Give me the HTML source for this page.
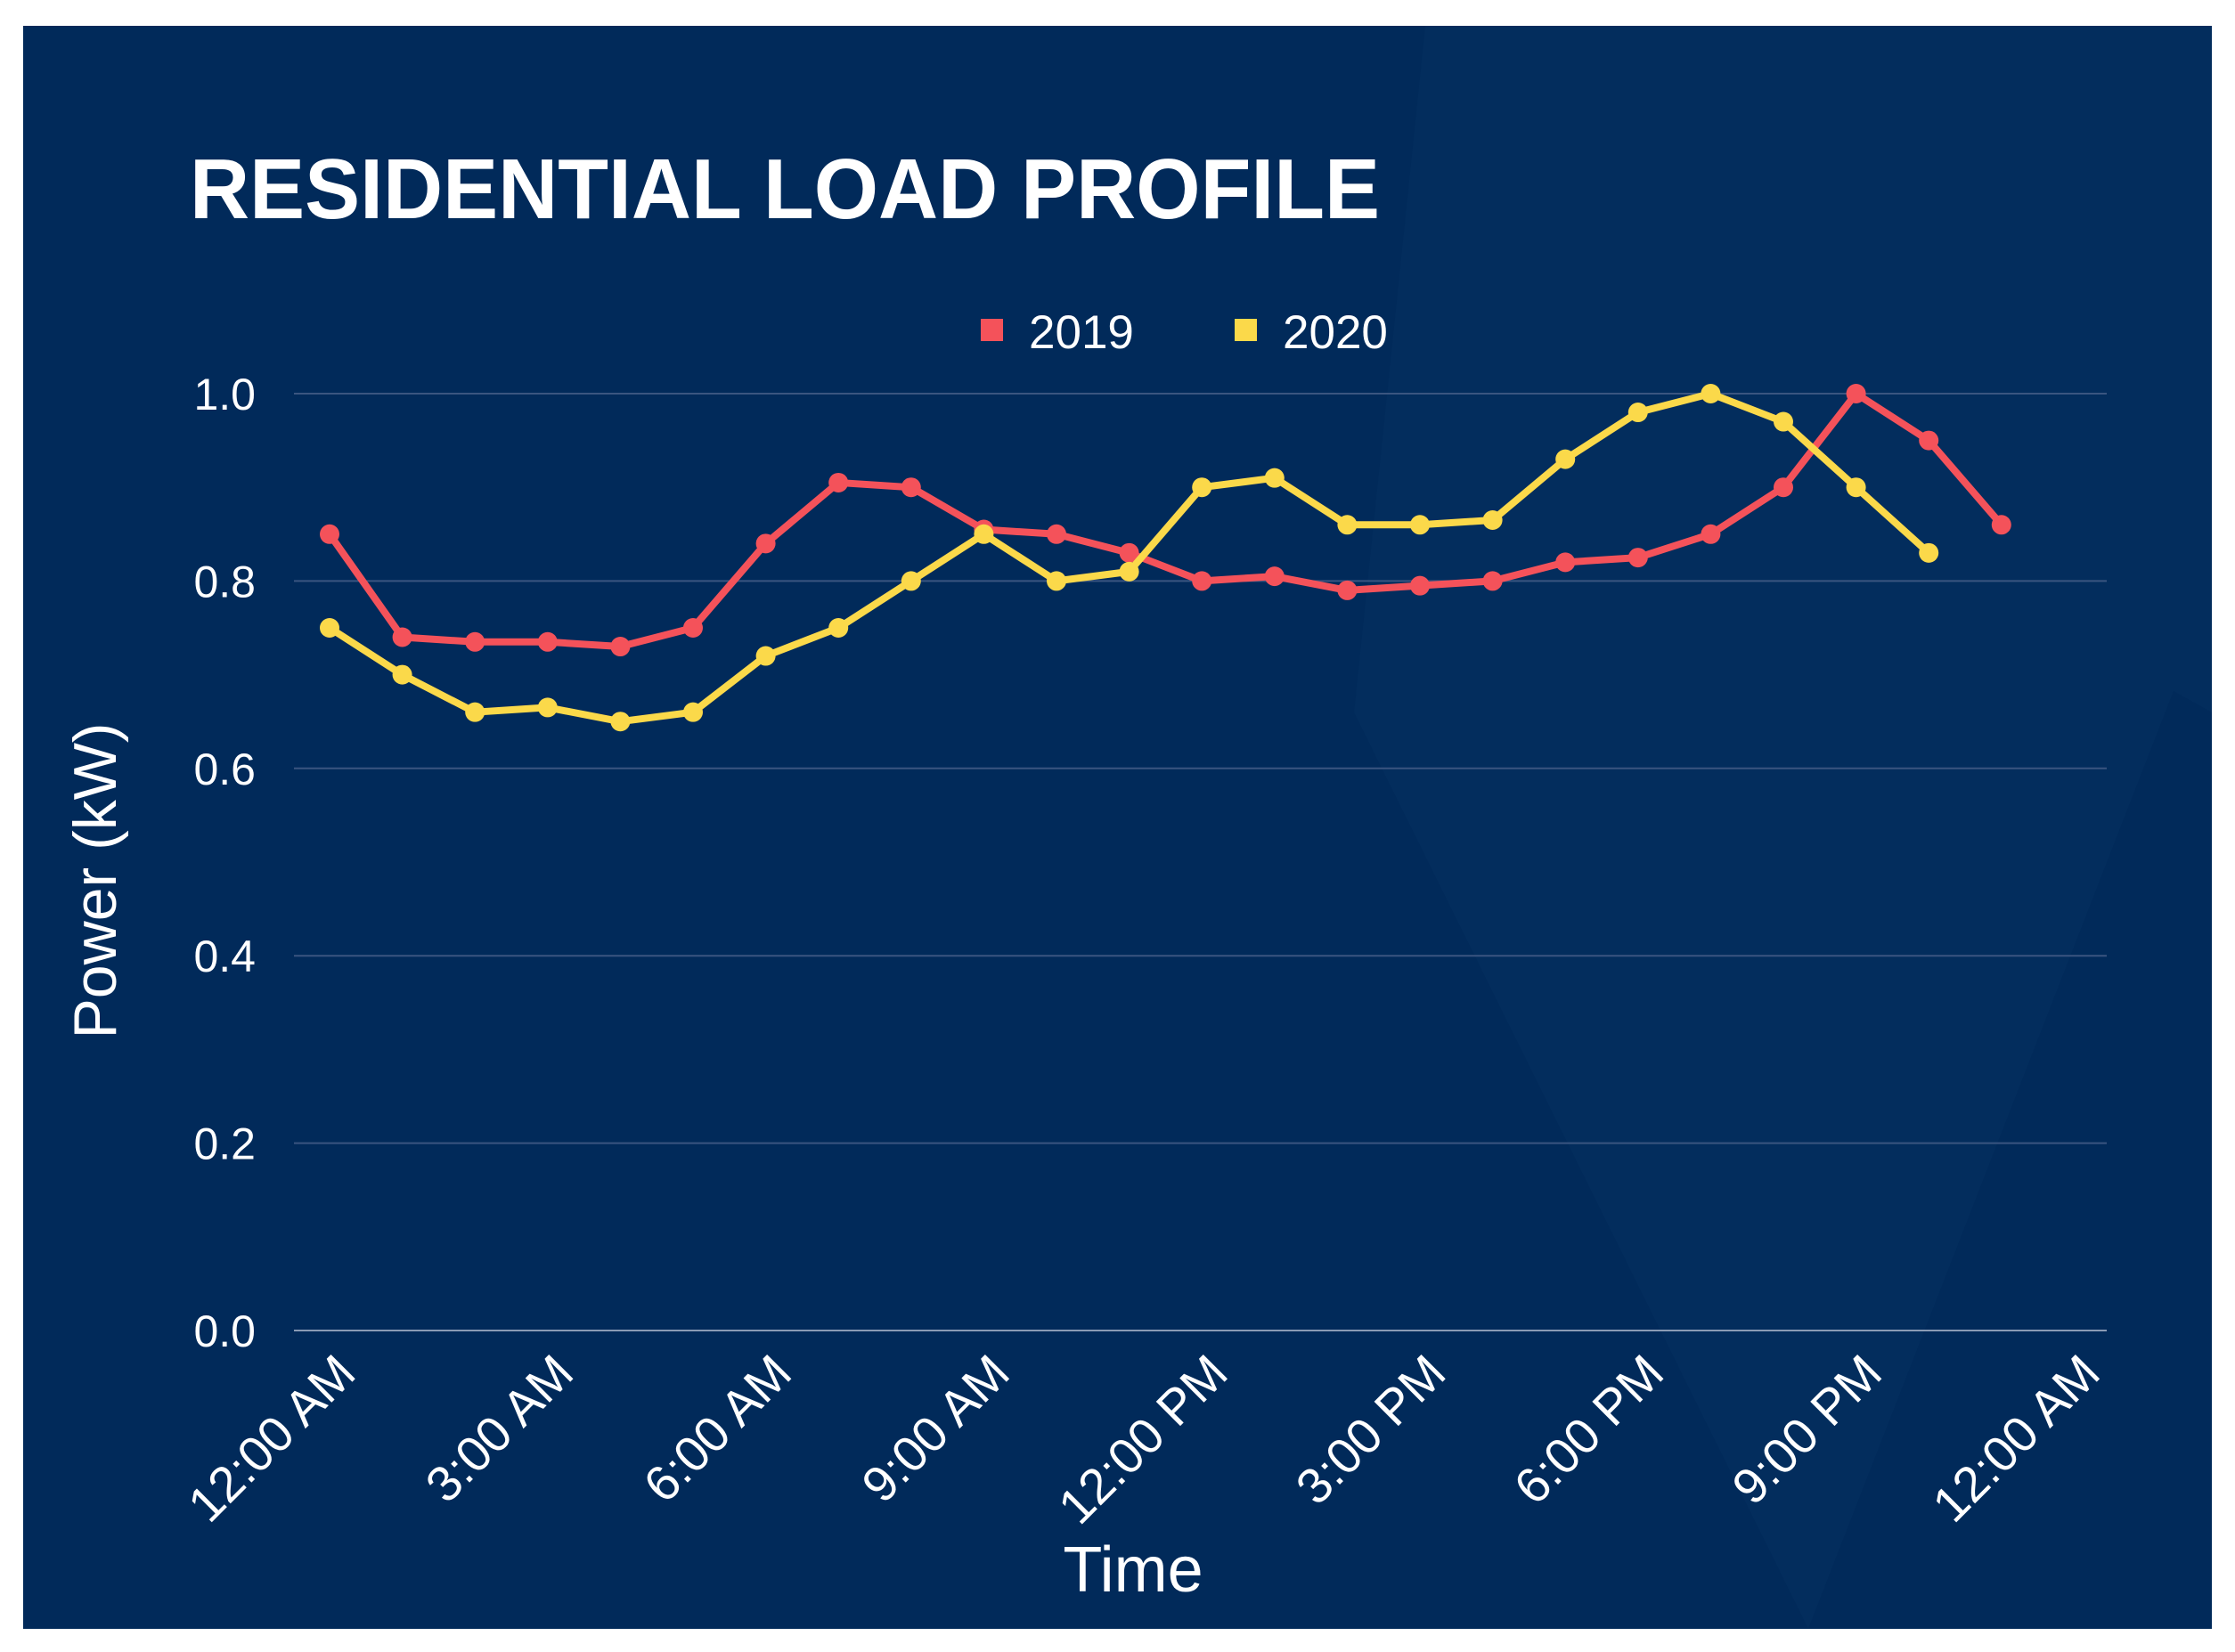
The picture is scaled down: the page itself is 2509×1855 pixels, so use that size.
<!DOCTYPE html>
<html><head><meta charset="utf-8"><style>
html,body{margin:0;padding:0;background:#fff;}
svg{display:block;font-family:"Liberation Sans",sans-serif;}
</style></head><body>
<svg id="chart" width="2509" height="1855" viewBox="0 0 2509 1855">
<rect x="26" y="29" width="2457" height="1800" fill="#012a5a"/>
<polygon points="1600,29 2483,29 2483,800 2440,776 2030,1829 1520,800" fill="#06305f" opacity="0.5"/>
<text x="213" y="245" fill="#fff" font-size="96" font-weight="bold" textLength="1336" lengthAdjust="spacingAndGlyphs">RESIDENTIAL LOAD PROFILE</text>
<g>
<rect x="1101" y="358" width="25" height="25" fill="#f4525a"/>
<text x="1155" y="391" fill="#fff" font-size="53">2019</text>
<rect x="1386" y="358" width="25" height="25" fill="#fbd94a"/>
<text x="1440" y="391" fill="#fff" font-size="53">2020</text>
</g>
<g id="grid"></g><g id="axes"></g><g id="series"></g>
<text transform="translate(130,989) rotate(-90)" text-anchor="middle" fill="#fff" font-size="68">Power (kW)</text>
<text x="1272" y="1787" text-anchor="middle" fill="#fff" font-size="72">Time</text>
</svg>
<script>
const yTicks=[0,0.2,0.4,0.6,0.8,1.0];
const yTickLabels=["0.0","0.2","0.4","0.6","0.8","1.0"];
const xTickHours=[0,3,6,9,12,15,18,21,24];
const xTickLabels=["12:00 AM","3:00 AM","6:00 AM","9:00 AM","12:00 PM","3:00 PM","6:00 PM","9:00 PM","12:00 AM"];
const hours2019=[0,1,2,3,4,5,6,7,8,9,10,11,12,13,14,15,16,17,18,19,20,21,22,23];
const values2019=[0.85,0.74,0.735,0.735,0.73,0.75,0.84,0.905,0.90,0.855,0.85,0.83,0.80,0.805,0.79,0.795,0.80,0.82,0.825,0.85,0.90,1.0,0.95,0.86];
const hours2020=[0,1,2,3,4,5,6,7,8,9,10,11,12,13,14,15,16,17,18,19,20,21,22];
const values2020=[0.75,0.70,0.66,0.665,0.65,0.66,0.72,0.75,0.80,0.85,0.80,0.81,0.90,0.91,0.86,0.86,0.865,0.93,0.98,1.0,0.97,0.90,0.83];
const NS="http://www.w3.org/2000/svg";
const xS=h=>370+h*81.6;
const yS=v=>1494-v*1052;
function mk(tag,attrs,parent){const e=document.createElementNS(NS,tag);for(const k in attrs)e.setAttribute(k,attrs[k]);parent.appendChild(e);return e;}
const grid=document.getElementById('grid'),axes=document.getElementById('axes'),ser=document.getElementById('series');
yTicks.forEach((v,i)=>{
 const l=mk('line',{x1:330,x2:2365,y1:yS(v),y2:yS(v),stroke:i===0?'#8a9bb5':'#3a5580','stroke-width':2},grid);
 
 
 const t=mk('text',{x:287,y:yS(v)+18,'text-anchor':'end',fill:'#fff','font-size':50},axes);
 t.textContent=yTickLabels[i];
 
 
});
xTickHours.forEach((h,i)=>{
 const x=xS(h)+32,y=1545;
 const t=mk('text',{x:x,y:y,'text-anchor':'end',fill:'#fff','font-size':56,transform:`rotate(-45 ${x} ${y})`},axes);
 t.textContent=xTickLabels[i];
 
 
});
function drawSeries(hs,vs,color,name){
 const g=mk('g',{},ser);
 
 
 const p=mk('polyline',{points:hs.map((h,i)=>xS(h)+','+yS(vs[i])).join(' '),fill:'none',stroke:color,'stroke-width':8,'stroke-linejoin':'round'},g);
 
 
 hs.forEach((h,i)=>{
  const c=mk('circle',{cx:xS(h),cy:yS(vs[i]),r:11,fill:color},g);
  
  
 });
}
drawSeries(hours2019,values2019,'#f4525a','2019');
drawSeries(hours2020,values2020,'#fbd94a','2020');
</script>
</body></html>
